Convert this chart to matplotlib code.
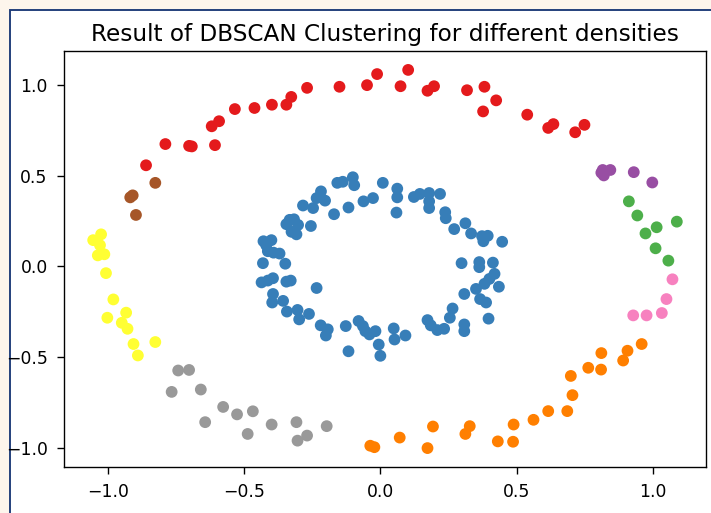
import numpy as np
import matplotlib
matplotlib.use("Agg")
import matplotlib.pyplot as plt
from matplotlib.patches import Rectangle

# points, one pair of lists per DBSCAN cluster
red_x = [-0.789, -0.702, -0.692, -0.607, -0.619, -0.592, -0.860, -0.534, -0.462, -0.398,
         -0.345, -0.327, -0.269, -0.150, -0.049, -0.012, 0.074, 0.102, 0.173, 0.197,
         0.318, 0.382, 0.425, 0.377, 0.539, 0.616, 0.635, 0.715, 0.749]
red_y = [0.675, 0.665, 0.662, 0.669, 0.773, 0.801, 0.558, 0.868, 0.874, 0.892,
         0.892, 0.935, 0.985, 0.991, 1.000, 1.061, 0.994, 1.084, 0.969, 0.994,
         0.972, 0.991, 0.916, 0.855, 0.837, 0.764, 0.785, 0.740, 0.781]

blue_x = [-0.158, -0.138, -0.101, -0.096, -0.218, -0.234, -0.203, -0.247, -0.284, -0.170,
          -0.117, -0.062, -0.027, -0.333, -0.317, -0.345, -0.302, -0.326, -0.308, -0.255,
          -0.429, -0.400, -0.419, -0.413, -0.392, -0.370, -0.431, -0.349, -0.436, -0.413,
          -0.394, -0.345, -0.329, -0.234, -0.394, -0.397, -0.357, -0.343, -0.304, -0.298,
          -0.262, -0.219, -0.193, -0.200, -0.127, -0.080, -0.064, -0.055, -0.040, -0.018,
          -0.006, 0.000, -0.117,
          0.009, 0.062, 0.062, 0.059, 0.123, 0.145, 0.179, 0.219, 0.179, 0.179,
          0.238, 0.240, 0.271, 0.312, 0.333, 0.373, 0.394, 0.378, 0.447, 0.298,
          0.363, 0.363, 0.413, 0.419, 0.400, 0.382, 0.351, 0.435, 0.308, 0.366,
          0.388, 0.397, 0.265, 0.255, 0.173, 0.185, 0.209, 0.234, 0.308, 0.308,
          0.049, 0.052, 0.092]
blue_y = [0.461, 0.467, 0.492, 0.448, 0.414, 0.377, 0.363, 0.322, 0.336, 0.288,
          0.325, 0.359, 0.377, 0.257, 0.260, 0.233, 0.229, 0.191, 0.177, 0.223,
          0.139, 0.145, 0.117, 0.084, 0.076, 0.071, 0.018, 0.015, -0.088, -0.078,
          -0.065, -0.084, -0.078, -0.119, -0.152, -0.199, -0.190, -0.249, -0.240, -0.292,
          -0.262, -0.325, -0.347, -0.381, -0.329, -0.301, -0.329, -0.357, -0.375, -0.357,
          -0.431, -0.493, -0.468,
          0.461, 0.429, 0.381, 0.297, 0.383, 0.400, 0.405, 0.400, 0.359, 0.322,
          0.299, 0.266, 0.206, 0.238, 0.182, 0.167, 0.169, 0.139, 0.136, 0.018,
          0.024, -0.004, 0.021, -0.041, -0.069, -0.096, -0.124, -0.112, -0.152, -0.180,
          -0.199, -0.288, -0.232, -0.283, -0.296, -0.325, -0.351, -0.344, -0.320, -0.357,
          -0.342, -0.403, -0.381]

green_x = [0.912, 0.943, 0.973, 1.014, 1.088, 1.010, 1.057]
green_y = [0.359, 0.281, 0.182, 0.216, 0.247, 0.100, 0.032]

purple_x = [0.816, 0.844, 0.820, 0.811, 0.930, 0.998]
purple_y = [0.532, 0.532, 0.502, 0.517, 0.520, 0.463]

orange_x = [-0.037, -0.022, 0.071, 0.173, 0.193, 0.312, 0.328, 0.431, 0.487, 0.489,
            0.562, 0.616, 0.686, 0.705, 0.699, 0.763, 0.810, 0.811, 0.891, 0.907, 0.959]
orange_y = [-0.989, -0.997, -0.944, -1.002, -0.883, -0.924, -0.881, -0.965, -0.967, -0.872,
            -0.846, -0.798, -0.798, -0.710, -0.604, -0.559, -0.569, -0.478, -0.519, -0.465, -0.428]

yellow_x = [-1.054, -1.025, -1.029, -1.037, -1.013, -1.007, -0.980, -0.933, -1.002, -0.949,
            -0.928, -0.906, -0.890, -0.826]
yellow_y = [0.145, 0.177, 0.117, 0.061, 0.067, -0.037, -0.182, -0.255, -0.283, -0.311,
            -0.344, -0.428, -0.491, -0.417]

brown_x = [-0.918, -0.909, -0.826, -0.897]
brown_y = [0.381, 0.392, 0.461, 0.284]

pink_x = [1.072, 1.050, 1.033, 0.977, 0.928]
pink_y = [-0.071, -0.180, -0.257, -0.270, -0.270]

gray_x = [-0.742, -0.702, -0.766, -0.659, -0.643, -0.577, -0.526, -0.468, -0.487, -0.399,
          -0.308, -0.304, -0.269, -0.197]
gray_y = [-0.574, -0.571, -0.692, -0.679, -0.859, -0.775, -0.816, -0.799, -0.924, -0.872,
          -0.859, -0.961, -0.933, -0.881]

clusters = [(red_x, red_y), (blue_x, blue_y), (green_x, green_y), (purple_x, purple_y),
            (orange_x, orange_y), (yellow_x, yellow_y), (brown_x, brown_y),
            (pink_x, pink_y), (gray_x, gray_y)]

X = np.concatenate([c[0] for c in clusters])
Y = np.concatenate([c[1] for c in clusters])
labels = np.concatenate([np.full(len(c[0]), i) for i, c in enumerate(clusters)])

fig = plt.figure(figsize=(711 / 124, 513 / 124), dpi=124)
fig.patch.set_facecolor("#fdf5ec")
# white panel with dark blue frame (screenshot border), kept behind the axes
frame = Rectangle((9.5 / 711, -0.1), 1.2, 1.1 - 9.5 / 513,
                  transform=fig.transFigure, facecolor="white",
                  edgecolor="#1d3b78", linewidth=1.1, zorder=-5)
fig.add_artist(frame)

ax = fig.add_axes([64 / 711, 46 / 513, 642 / 711, 416 / 513])
ax.set_zorder(1)
ax.scatter(X, Y, c=labels, cmap="Set1", vmin=0, vmax=8, s=34)
ax.set_title("Result of DBSCAN Clustering for different densities", fontsize=13.4)
ax.tick_params(labelsize=10, length=4, pad=5.5)

fig.savefig("out.png", dpi=124, facecolor=fig.get_facecolor())
